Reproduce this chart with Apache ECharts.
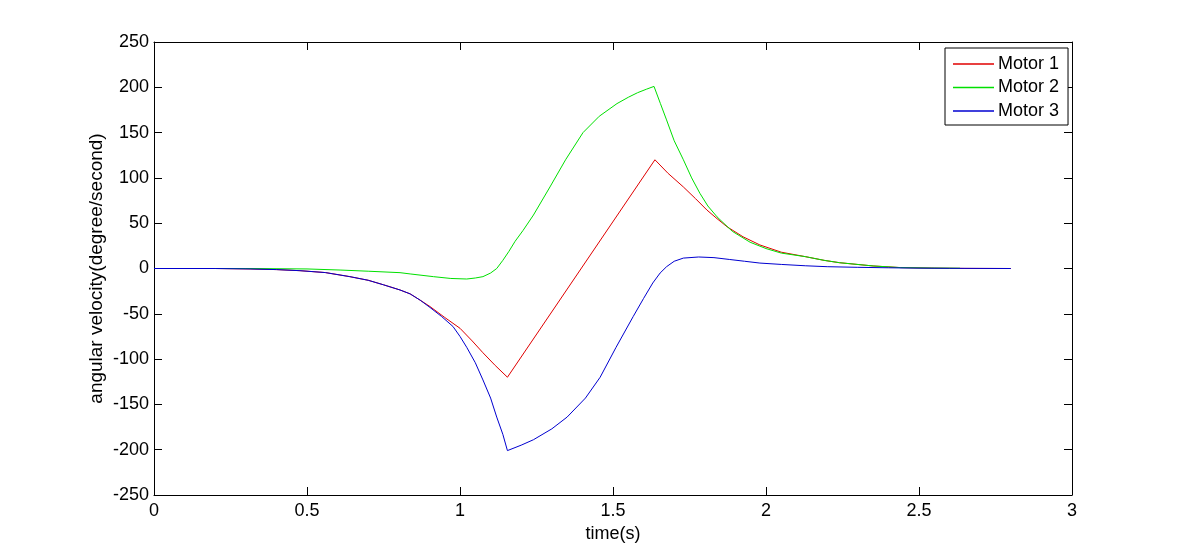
<!DOCTYPE html>
<html>
<head>
<meta charset="utf-8">
<script src="https://cdn.jsdelivr.net/npm/echarts@6/dist/echarts.min.js"></script>
<style>
html,body{margin:0;padding:0;background:#fff;}
#chart{width:1185px;height:556px;}
</style>
</head>
<body>
<div id="chart"></div>
<script>
var seriesNames = ['Motor 1', 'Motor 2', 'Motor 3'];
var seriesColors = ['#e00000', '#00e000', '#0000d0'];
var xTicks = [0, 0.5, 1, 1.5, 2, 2.5, 3];
var yTicks = [-250, -200, -150, -100, -50, 0, 50, 100, 150, 200, 250];

var motor1Time = [0, 0.2, 0.314, 0.4, 0.477, 0.56, 0.64, 0.7, 0.75, 0.804, 0.837, 0.87, 0.902, 0.95, 1.0, 1.04, 1.075, 1.115, 1.155, 1.637, 1.68, 1.73, 1.77, 1.807, 1.84, 1.873, 1.925, 1.98, 2.05, 2.13, 2.19, 2.24, 2.35, 2.44, 2.55, 2.65, 2.8];
var motor1Values = [0, 0, -0.5, -1.2, -2.4, -4.5, -9, -13, -18, -23.7, -28, -35, -42, -54, -66, -80, -93, -107, -120, 120, 105, 90, 77, 64.5, 55, 46, 35, 26, 18, 13, 9, 6.4, 2.8, 1, 0.4, 0.1, 0];

var motor2Time = [0, 0.3, 0.5, 0.608, 0.7, 0.804, 0.837, 0.913, 0.97, 1.022, 1.05, 1.075, 1.1, 1.12, 1.14, 1.16, 1.18, 1.206, 1.24, 1.294, 1.345, 1.402, 1.455, 1.513, 1.55, 1.58, 1.61, 1.634, 1.655, 1.675, 1.7, 1.73, 1.757, 1.784, 1.81, 1.84, 1.89, 1.948, 2.0, 2.05, 2.13, 2.19, 2.24, 2.35, 2.44, 2.54, 2.634];
var motor2Values = [0, 0, -0.5, -1.7, -3, -4.6, -6, -9, -11, -11.6, -10.5, -9, -5, 0, 9, 19, 30, 42, 59, 90, 120, 150, 168, 182, 189, 194, 198, 201, 182, 164, 141, 120, 100, 83, 69, 57, 41, 29, 22, 17, 13, 9, 6.4, 2.8, 1, 0.5, 0.3];

var motor3Time = [0, 0.2, 0.314, 0.4, 0.477, 0.56, 0.64, 0.7, 0.75, 0.804, 0.837, 0.87, 0.902, 0.94, 0.977, 1.0, 1.022, 1.05, 1.075, 1.1, 1.12, 1.14, 1.155, 1.2, 1.24, 1.3, 1.35, 1.41, 1.458, 1.51, 1.566, 1.6, 1.63, 1.654, 1.675, 1.7, 1.73, 1.78, 1.83, 1.88, 1.93, 1.98, 2.05, 2.13, 2.2, 2.3, 2.4, 2.5, 2.6, 2.8];
var motor3Values = [0, 0, -0.5, -1.2, -2.4, -4.5, -9, -13, -18, -23.7, -28, -35, -43, -53, -64, -75, -87, -104, -123, -143, -164, -183, -201, -195, -189, -177, -164, -143, -120, -87, -53, -33, -16, -5, 2, 8, 11.5, 12.7, 12, 10, 8, 6, 4.5, 3, 2, 1.3, 0.8, 0.4, 0.2, 0];

function pairs(t, v) { return t.map(function (x, i) { return [x, v[i]]; }); }

var font = 'Liberation Sans, Arial, sans-serif';
var chart = echarts.init(document.getElementById('chart'), null, {renderer: 'canvas'});
var axisLine = {show: true, onZero: false, lineStyle: {color: '#000', width: 1}};
var tickStyle = {show: true, inside: true, length: 8, lineStyle: {color: '#000', width: 1}};
var lineIcon = 'path://M0,0L25,0L25,1L0,1Z';

var option = {
  backgroundColor: '#fff',
  animation: false,
  grid: {left: 154, top: 42, right: 113, bottom: 61, containLabel: false, show: false},
  legend: {
    data: seriesNames.map(function (n, i) {
      return {name: n, icon: lineIcon, itemStyle: {color: seriesColors[i], borderWidth: 0, opacity: 1}};
    }),
    orient: 'vertical',
    left: 945,
    top: 48,
    padding: [7, 9, 5, 8],
    itemWidth: 41,
    itemHeight: 16,
    itemGap: 5.5,
    borderColor: '#000',
    borderWidth: 1,
    backgroundColor: '#fff',
    textStyle: {fontFamily: font, fontSize: 18, color: '#000', padding: [0, 0, 0, -1]}
  },
  xAxis: [{
    type: 'value', min: 0, max: 3, interval: 0.5, position: 'bottom',
    name: 'time(s)', nameLocation: 'middle', nameGap: 27,
    nameTextStyle: {fontFamily: font, fontSize: 18, color: '#000'},
    axisLine: axisLine, axisTick: tickStyle,
    axisLabel: {fontFamily: font, fontSize: 18, color: '#000', margin: 7,
      formatter: function (v) { return String(v); }},
    splitLine: {show: false}
  }, {
    type: 'value', min: 0, max: 3, interval: 0.5, position: 'top',
    axisLine: axisLine, axisTick: tickStyle, axisLabel: {show: false}, splitLine: {show: false}
  }],
  yAxis: [{
    type: 'value', min: -250, max: 250, interval: 50, position: 'left',
    name: 'angular velocity(degree/second)', nameLocation: 'middle', nameGap: 48,
    nameMoveOverlap: false,
    nameTextStyle: {fontFamily: font, fontSize: 19, color: '#000'},
    axisLine: axisLine, axisTick: tickStyle,
    axisLabel: {fontFamily: font, fontSize: 18, color: '#000', margin: 5},
    splitLine: {show: false}
  }, {
    type: 'value', min: -250, max: 250, interval: 50, position: 'right',
    axisLine: axisLine, axisTick: tickStyle, axisLabel: {show: false}, splitLine: {show: false}
  }],
  series: [
    {name: seriesNames[0], type: 'line', data: pairs(motor1Time, motor1Values), symbol: 'none',
      lineStyle: {color: seriesColors[0], width: 1}, itemStyle: {color: seriesColors[0]}},
    {name: seriesNames[1], type: 'line', data: pairs(motor2Time, motor2Values), symbol: 'none',
      lineStyle: {color: seriesColors[1], width: 1}, itemStyle: {color: seriesColors[1]}},
    {name: seriesNames[2], type: 'line', data: pairs(motor3Time, motor3Values), symbol: 'none',
      lineStyle: {color: seriesColors[2], width: 1}, itemStyle: {color: seriesColors[2]}}
  ]
};
chart.setOption(option);
</script>
</body>
</html>
